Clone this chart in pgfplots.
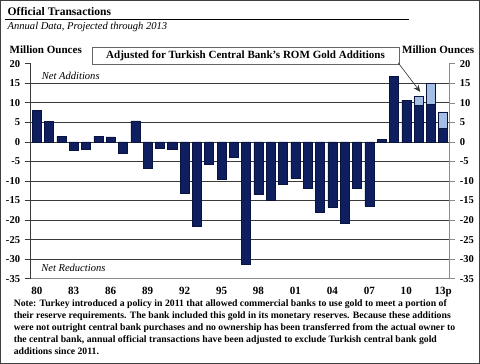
\documentclass[border=0pt]{standalone}
\usepackage{pgfplots}
\pgfplotsset{compat=1.18}
\usepackage{fontspec}
\setmainfont{Liberation Serif}
\usetikzlibrary{arrows.meta}
\definecolor{navy}{HTML}{0E1E5E}
\definecolor{navyedge}{HTML}{08133F}
\definecolor{lightb}{HTML}{A5BEE4}
\definecolor{gridc}{HTML}{3A3A3A}
\begin{document}
\begin{tikzpicture}[x=1pt,y=1pt]
% frame
\draw[line width=1pt, black!75] (1,-1) rectangle (478,-362);
% titles
\node[anchor=base west, font=\bfseries\fontsize{11.5}{13}\selectfont, inner sep=0] at (8,-16) {Official Transactions};
\draw[line width=0.7pt] (5,-19.5) -- (408,-19.5);
\node[anchor=base west, font=\itshape\fontsize{10.5}{12}\selectfont, inner sep=0] at (8,-30) {Annual Data, Projected through 2013};
\node[anchor=base west, font=\bfseries\fontsize{11}{13}\selectfont, inner sep=0] at (10,-54) {Million Ounces};
\node[anchor=base east, font=\bfseries\fontsize{11}{13}\selectfont, inner sep=0] at (473,-54) {Million Ounces};

\begin{axis}[
  at={(31pt,-278pt)}, anchor=south west,
  scale only axis, width=417pt, height=214pt,
  xmin=-0.5, xmax=33.5, ymin=-35, ymax=20,
  axis x line*=bottom, axis y line*=left,
  x axis line style={black!45, line width=0.5pt},
  y axis line style={gridc, line width=0.8pt},
  xtick={0,3,...,33},
  xticklabels={80,83,86,89,92,95,98,01,04,07,10,13p},
  major x tick style={draw=none},
  ytick={-35,-30,...,20},
  tick align=outside,
  major tick length=6pt,
  ytick style={gridc, line width=0.8pt},
  extra y ticks={-30,-25,...,15},
  extra y tick labels={},
  extra y tick style={grid=major, major tick length=0pt},
  grid style={gridc, line width=0.8pt},
  /pgf/number format/assume math mode=true,
  ticklabel style={font=\bfseries\fontsize{10.5}{12}\selectfont},
  xticklabel style={yshift=1.5pt, font=\bfseries\fontsize{11}{12}\selectfont},
  yticklabel style={xshift=-1pt},
  clip=false,
]
\addplot[ybar, bar width=9pt, bar shift=0pt, fill=lightb, draw=navyedge, line width=0.5pt]
  coordinates {(31,11.6) (32,14.9) (33,7.7)};
\addplot[ybar, bar width=9pt, bar shift=0pt, fill=navy, draw=navyedge, line width=0.5pt]
  coordinates {
  (0,8.1) (1,5.2) (2,1.5) (3,-2.1) (4,-1.8) (5,1.5) (6,1.3) (7,-3.0) (8,5.4) (9,-6.8)
  (10,-1.5) (11,-1.9) (12,-13.1) (13,-21.6) (14,-5.8) (15,-9.5) (16,-4.0) (17,-31.3) (18,-13.3) (19,-15.0)
  (20,-10.9) (21,-9.2) (22,-11.9) (23,-18.0) (24,-16.8) (25,-20.7) (26,-11.9) (27,-16.4) (28,0.6) (29,16.8)
  (30,10.7) (31,9.4) (32,9.6) (33,3.5)};
\node[anchor=west, font=\itshape\fontsize{10.5}{12}\selectfont, inner sep=0] at (axis cs:0.4,17) {Net Additions};
\node[anchor=west, font=\itshape\fontsize{10.5}{12}\selectfont, inner sep=0] at (axis cs:0.35,-32.3) {Net Reductions};
\end{axis}

\begin{axis}[
  at={(31pt,-278pt)}, anchor=south west,
  scale only axis, width=417pt, height=214pt,
  xmin=-0.5, xmax=33.5, ymin=-35, ymax=20,
  axis x line=none, axis y line*=right,
  y axis line style={black!45, line width=0.6pt},
  ytick={-35,-30,...,20},
  tick align=outside,
  major tick length=6pt,
  ytick style={black!45, line width=0.6pt},
  /pgf/number format/assume math mode=true,
  ticklabel style={font=\bfseries\fontsize{10.5}{12}\selectfont},
  yticklabel style={xshift=1pt},
]
\addplot[draw=none] coordinates {(0,0)};
\end{axis}

% annotation box and arrow
\node[draw=black!60, fill=white, line width=0.6pt, minimum width=306pt, minimum height=17pt,
      font=\bfseries\fontsize{11}{13}\selectfont, inner sep=0] at (245,-56.5)
      {Adjusted for Turkish Central Bank's ROM Gold Additions};
\draw[-{Stealth[length=7pt,width=6pt]}, line width=0.6pt, black!80] (397,-63) -- (419,-92);

% footnote
\node[anchor=north west, align=left, inner sep=0,
      font=\bfseries\fontsize{9.7}{12}\selectfont] at (14,-298.5)
{Note: Turkey introduced a policy in 2011 that allowed commercial banks to use gold to meet a portion of\\
their reserve requirements. The bank included this gold in its monetary reserves. Because these additions\\
were not outright central bank purchases and no ownership has been transferred from the actual owner to\\
the central bank, annual official transactions have been adjusted to exclude Turkish central bank gold\\
additions since 2011.};
\end{tikzpicture}
\end{document}
